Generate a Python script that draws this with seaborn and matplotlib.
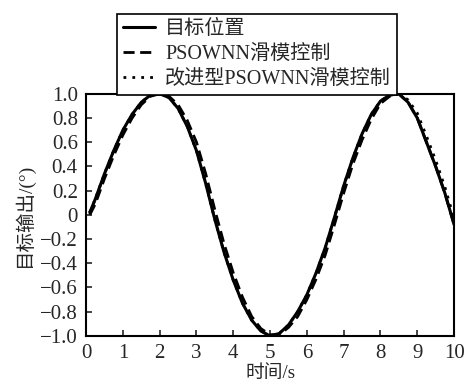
import numpy as np
import pandas as pd
import seaborn as sns
from matplotlib import pyplot as plt

# data
t = [0.1, 0.25, 0.5, 0.75, 1.0, 1.25, 1.5, 1.75, 2.0, 2.25, 2.5, 2.75, 3.0, 3.25,
     3.5, 3.75, 4.0, 4.25, 4.5, 4.75, 5.0, 5.25, 5.5, 5.75, 6.0, 6.25, 6.5, 6.75,
     7.0, 7.25, 7.5, 7.75, 8.0, 8.25, 8.5, 8.75, 9.0, 9.25, 9.5, 9.75, 10.0]
target = [0.02, 0.13, 0.34, 0.53, 0.70, 0.83, 0.93, 0.99, 1.0, 0.97, 0.88, 0.73, 0.53, 0.26,
          -0.04, -0.31, -0.54, -0.73, -0.87, -0.96, -1.0, -0.98, -0.91, -0.80, -0.66, -0.48, -0.27, -0.02,
          0.24, 0.47, 0.67, 0.83, 0.94, 0.99, 1.0, 0.93, 0.80, 0.60, 0.40, 0.18, -0.08]
pso = [0.0, 0.09, 0.30, 0.49, 0.66, 0.80, 0.91, 0.98, 1.0, 0.98, 0.91, 0.78, 0.60, 0.34,
       0.04, -0.24, -0.48, -0.68, -0.84, -0.94, -0.99, -0.99, -0.93, -0.84, -0.70, -0.53, -0.33, -0.08,
       0.18, 0.42, 0.62, 0.79, 0.92, 0.98, 1.0, 0.93, 0.80, 0.60, 0.40, 0.18, -0.08]
improved = [0.02, 0.13, 0.34, 0.53, 0.70, 0.83, 0.93, 0.99, 1.0, 0.97, 0.88, 0.73, 0.53, 0.26,
            -0.04, -0.31, -0.54, -0.73, -0.87, -0.96, -1.0, -0.98, -0.91, -0.80, -0.66, -0.48, -0.27, -0.02,
            0.24, 0.47, 0.67, 0.83, 0.94, 0.99, 1.0, 0.95, 0.84, 0.65, 0.45, 0.23, -0.03]

labels = ['目标位置', 'PSOWNN滑模控制', '改进型PSOWNN滑模控制']
xticks = list(range(0, 11))
yticks = [1.0, 0.8, 0.6, 0.4, 0.2, 0, -0.2, -0.4, -0.6, -0.8, -1.0]
ytick_labels = ['1.0', '0.8', '0.6', '0.4', '0.2', '0', '\u22120.2', '\u22120.4', '\u22120.6', '\u22120.8', '\u22121.0']

sns.set_style('ticks')
plt.rcParams['font.family'] = ['Liberation Serif', 'Noto Sans CJK SC']
plt.rcParams['xtick.direction'] = 'in'
plt.rcParams['ytick.direction'] = 'in'

fig = plt.figure(figsize=(4.73, 3.83), dpi=100)
ax = fig.add_axes([0.182, 0.123, 0.778, 0.632])

df = pd.DataFrame({'t': t, 'target': target, 'pso': pso, 'improved': improved})

sns.lineplot(data=df, x='t', y='improved', ax=ax, color='black', lw=2.0,
             linestyle=(0, (1, 2.2)), label=labels[2], zorder=2)
sns.lineplot(data=df, x='t', y='pso', ax=ax, color='black', lw=2.0,
             linestyle=(0, (4, 2)), label=labels[1], zorder=3)
sns.lineplot(data=df, x='t', y='target', ax=ax, color='black', lw=2.2,
             label=labels[0], zorder=4)

ax.set_xlim(0, 10)
ax.set_ylim(-1.0, 1.0)
ax.set_xticks(xticks)
ax.set_yticks(yticks)
ax.set_yticklabels(ytick_labels)
ax.tick_params(labelsize=15, length=4, width=1.2, top=False, right=False)
ax.tick_params(axis='x', pad=6)
ax.tick_params(axis='y', pad=6)
for s in ax.spines.values():
    s.set_linewidth(1.5)
    s.set_color('black')

ax.set_xlabel('时间/s', fontsize=13.5, labelpad=1.5)
ax.set_ylabel('目标输出/(°)', fontsize=14, labelpad=4)

handles, lbls = ax.get_legend_handles_labels()
order = [2, 1, 0]
leg = ax.legend([handles[i] for i in order], [lbls[i] for i in order],
                loc='lower left', bbox_to_anchor=(0.084, 0.995), fontsize=14.5,
                frameon=True, fancybox=False, edgecolor='black', framealpha=1,
                handlelength=1.6, handletextpad=0.5, labelspacing=0.3,
                borderpad=0.3, borderaxespad=0)
leg.get_frame().set_linewidth(1.2)

fig.savefig('out.png', dpi=100)
